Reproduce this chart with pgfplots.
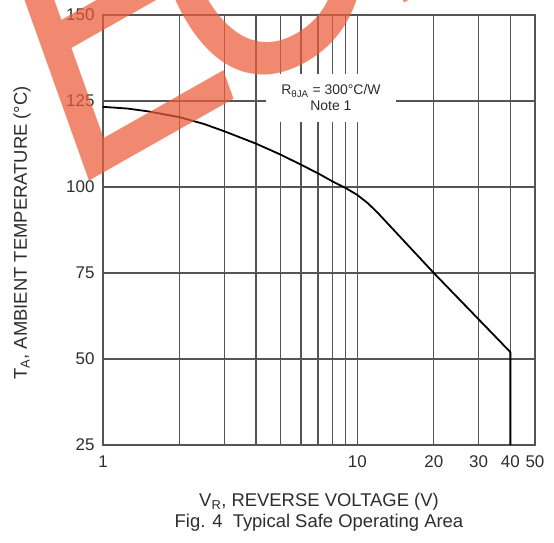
\documentclass[border=0pt]{standalone}
\usepackage{fontspec}
\setmainfont{Liberation Sans}
\usepackage{pgfplots}
\pgfplotsset{compat=1.18}
\definecolor{gridc}{RGB}{85,85,85}
\definecolor{txt}{RGB}{45,45,45}
\definecolor{wm}{RGB}{236,92,58}
\begin{document}
\begin{tikzpicture}
\begin{axis}[
  scale only axis, width=432bp, height=430bp,
  xmode=log, xmin=1, xmax=50, ymin=25, ymax=150,
  xtick={1,10,20,30,40,50}, xticklabels={1,10,20,30,40,50},
  minor xtick={2,3,4,5,6,7,8,9},
  ytick={25,50,75,100,125,150},
  grid=both,
  major grid style={gridc, line width=1.3bp},
  minor grid style={gridc, line width=1.3bp},
  axis line style={gridc, line width=1.3bp},
  major tick length=0pt, minor tick length=0pt,
  /pgf/number format/assume math mode=true,
  tick label style={font=\fontsize{17}{20}\selectfont, text=txt},
  xticklabel style={yshift=-7bp},
  yticklabel style={xshift=-5bp},
  clip=false,
]
\addplot[black, line width=1.8bp, line join=round] coordinates {
 (1,123.3) (1.25,122.8) (1.5,122) (2,120.3) (2.5,118.3) (3,116.2) (4,112.6)
 (5,109.4) (6,106.5) (7,104) (8,101.6) (9,99.7) (10,97.7) (11,95.3) (12,92.6)
 (20,75) (40,52) (40,25)};
\node[fill=white, inner sep=0pt, minimum width=130bp, minimum height=48bp,
  align=center, font=\fontsize{14}{16}\selectfont, text=txt]
  at (axis cs:7.88,125.9) {R\textsubscript{θJA} = 300°C/W\\Note 1};
\node[font=\fontsize{18.5}{22}\selectfont, text=txt]
  at (axis description cs:0.5,-0.1326) {V\textsubscript{R}, REVERSE VOLTAGE (V)};
\node[font=\fontsize{18.5}{22}\selectfont, text=txt]
  at (axis description cs:0.5,-0.181) {Fig. 4\ \ Typical Safe Operating Area};
\node[font=\fontsize{18.5}{22}\selectfont, text=txt, rotate=90]
  at (axis description cs:-0.1875,0.493) {T\textsubscript{A}, AMBIENT TEMPERATURE (°C)};
\end{axis}
\begin{scope}[shift={(-36bp,251bp)}]
\node[cm={0.670,0.379,-0.336,0.942,(0,0)}, transform shape, anchor=base west,
  inner sep=0pt, text=wm, opacity=0.72, font=\fontsize{400}{400}\selectfont]
  at (0,0) {E\kern-65bp O\kern-40bp L};
\end{scope}
\pgfresetboundingbox
\useasboundingbox (-103bp,-98bp) rectangle (451bp,445bp);
\end{tikzpicture}
\end{document}
